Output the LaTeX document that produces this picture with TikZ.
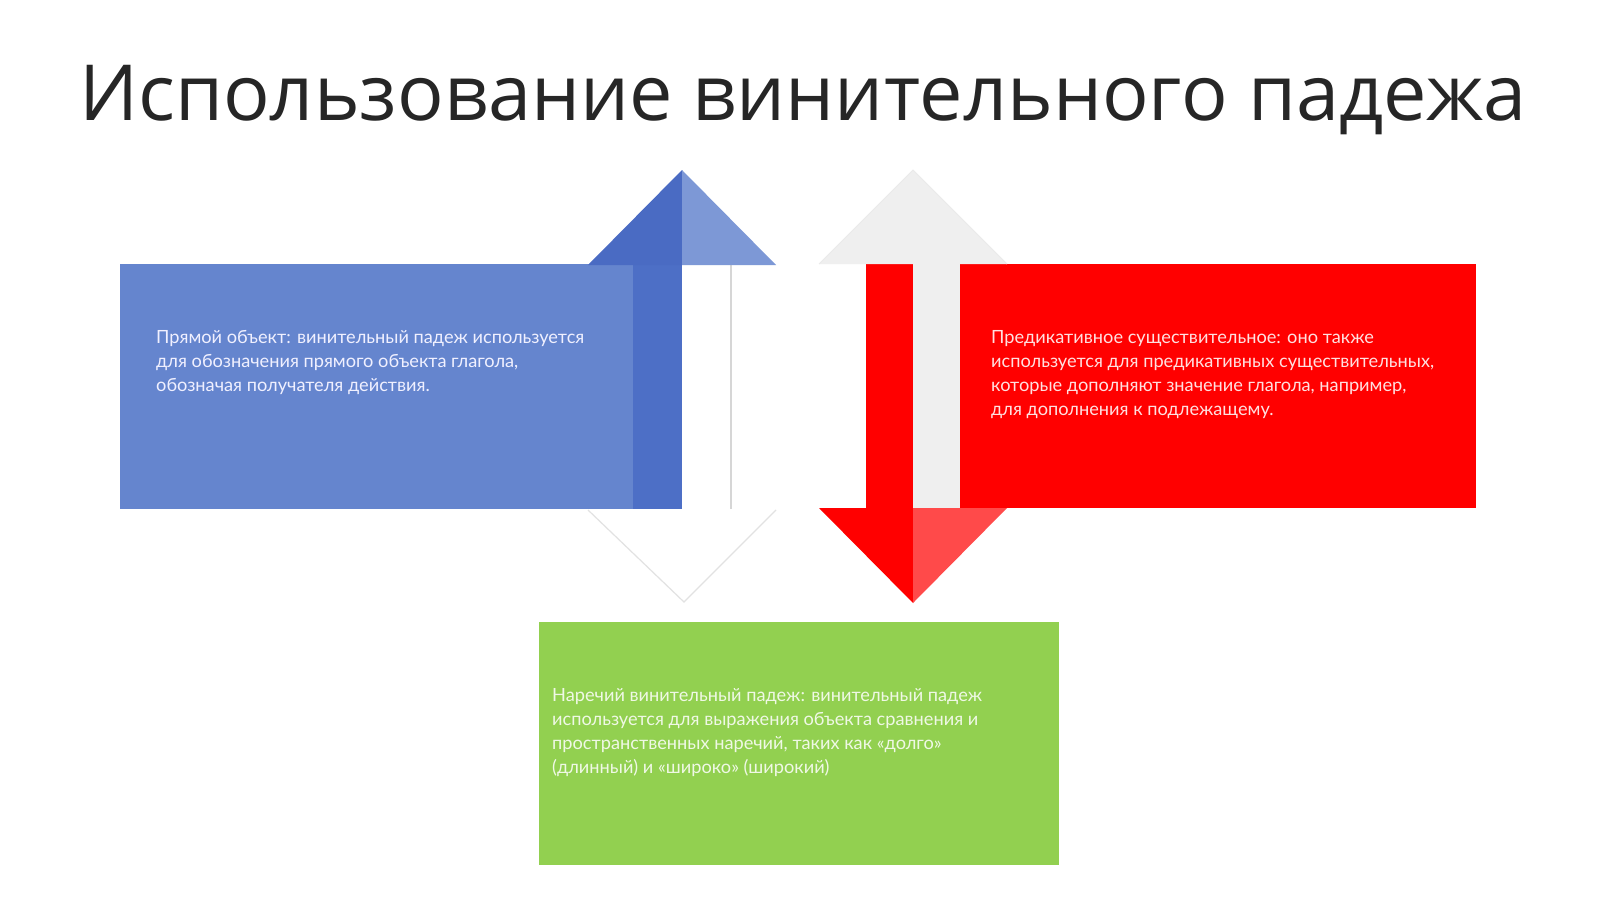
\documentclass[tikz,border=0pt]{standalone}
\usepackage{fontspec}
\setmainfont{Lato}
\newfontfamily\titlefont{Open Sans}
\definecolor{bluebox}{HTML}{6585CE}
\definecolor{bluedark}{HTML}{4D6FC6}
\definecolor{blueheadl}{HTML}{4A6BC3}
\definecolor{blueheadr}{HTML}{7D98D6}
\definecolor{redmain}{HTML}{FF0000}
\definecolor{redheadr}{HTML}{FF4A4A}
\definecolor{grayarrow}{HTML}{EFEFEF}
\definecolor{edgegray}{HTML}{D6D6D6}
\definecolor{greenbox}{HTML}{92D050}
\definecolor{titlecol}{HTML}{262626}
\begin{document}
\begin{tikzpicture}[x=1pt,y=-1pt,
  panel/.style={anchor=north west, inner sep=0pt, outer sep=0pt, draw=none},
  bodytext/.style={anchor=north west, inner sep=0pt, align=left, font=\fontsize{18.2}{24}\selectfont},
  softedge/.style={draw=edgegray, line width=1.2pt}]
\useasboundingbox (0,0) rectangle (1600,899);
\fill[white] (0,0) rectangle (1600,899);

% title
\node[anchor=base, inner sep=0pt, text=titlecol, font=\titlefont\fontsize{77.4}{90}\selectfont] (title) at (803,120) {Использование винительного падежа};

% ---------- blue panel and up arrow ----------
\node[panel, fill=bluebox, minimum width=513pt, minimum height=245pt] (bluebox) at (120,264) {};
\coordinate (btip) at (682,170);
\coordinate (bdtip) at (684,602);
\fill[bluedark] (633,264) rectangle (682,509);
\fill[white] (682,264) rectangle (731,509);
\draw[softedge] (731,265) -- (731,509);
\fill[blueheadl] (588,265) -- (btip) -- (682,265) -- cycle;
\fill[blueheadr] (682,265) -- (btip) -- (776,265) -- cycle;
\fill[white] (588,509) -- (bdtip) -- (776,509) -- cycle;
\draw[softedge, draw=edgegray!70] (588,510) -- (bdtip) -- (776,510);

% ---------- red panel and down arrow ----------
\node[panel, fill=redmain, minimum width=516pt, minimum height=244pt] (redbox) at (960,264) {};
\coordinate (rtip) at (913,603);
\coordinate (rutip) at (913,170);
\fill[redmain] (866,264) rectangle (913,508);
\fill[grayarrow] (913,264) rectangle (960,508);
\fill[grayarrow] (819,264) -- (rutip) -- (1007,264) -- cycle;
\draw[draw=grayarrow!80!edgegray, line width=1pt] (819,264) -- (rutip) -- (1007,264);
\fill[redmain] (819,508) -- (rtip) -- (913,508) -- cycle;
\fill[redheadr] (913,508) -- (rtip) -- (1007,508) -- cycle;

% ---------- green panel ----------
\node[panel, fill=greenbox, minimum width=520pt, minimum height=243pt] (greenbox) at (539,622) {};

% ---------- texts ----------
\node[bodytext, text=white!94!blue] (bluetext) at (156,330)
 {Прямой объект: винительный падеж используется\\
  для обозначения прямого объекта глагола,\\
  обозначая получателя действия.};
\node[bodytext, text=white!88!red] (redtext) at (991,330)
 {Предикативное существительное: оно также\\
  используется для предикативных существительных,\\
  которые дополняют значение глагола, например,\\
  для дополнения к подлежащему.};
\node[bodytext, text=white!85!greenbox] (greentext) at (552,688)
 {Наречий винительный падеж: винительный падеж\\
  используется для выражения объекта сравнения и\\
  пространственных наречий, таких как «долго»\\
  (длинный) и «широко» (широкий)};
\end{tikzpicture}
\end{document}
